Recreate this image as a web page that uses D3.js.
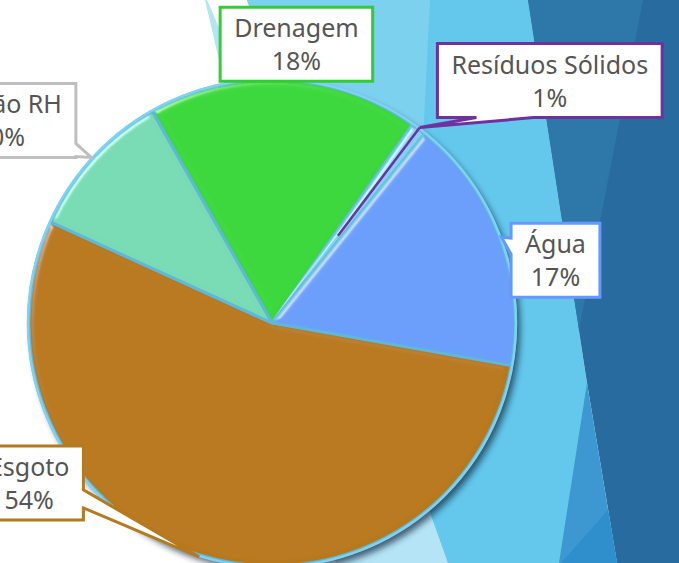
<!DOCTYPE html>
<html>
<head>
<meta charset="utf-8">
<style>
  body{margin:0;background:#fff;overflow:hidden;}
  #chart{display:block;}
  .lbl{font-family:"Noto Sans","Open Sans",sans-serif;font-size:25px;fill:#555555;}
</style>
<script src="https://cdn.jsdelivr.net/npm/d3@7"></script>
</head>
<body>
<svg id="chart"></svg>
<script>
// data
var categories=["Drenagem","Resíduos Sólidos","Água","Esgoto","Gestão RH"];
var shares=[18,1,17,54,10];
var sliceColors=["#3bd83b","#80d2ef","#6a9ffc","#b8791a","#78dbb4"];
var borderColors=["#33cc33","#7030a0","#6699ff","#b5791f","#bfbfbf"];

// callout placement, relative to the point where each slice meets the rim
var labelLayout=[
  {dx:12,dy:-34,side:null},
  {dx:130,dy:-47,side:"bottom",a:39,b:96},
  {dx:54,dy:23,side:"left",a:15,b:31},
  {dx:-170,dy:-74,side:"right",a:44,b:62},
  {dx:-91,dy:-37,side:"right",a:60,b:73}
];

// slide theme shapes on the right
var bgShapes=[
  {pts:[[205,0],[207,0],[452,563],[336,563]],fill:"#b5e4f6"},
  {pts:[[247,0],[528,0],[588,390],[560,563],[448,563]],fill:"#63c8ec"},
  {pts:[[247,0],[430,0],[420,200],[318,200]],fill:"#7cd1ef"},
  {pts:[[528,0],[679,0],[679,563],[617,563],[587,383]],fill:"#276b9f"},
  {pts:[[528,0],[643,0],[579,330]],fill:"#2e78a9"},
  {pts:[[587,383],[617,563],[559,563]],fill:"#3d97d1"},
  {pts:[[608,510],[617,563],[561,563]],fill:"#2f8fcc"}
];

var width=679,height=563;
var cx=272,cy=323,R=243;
var svg=d3.select("#chart").attr("width",width).attr("height",height);

var defs=svg.append("defs");
var bevel=defs.append("filter").attr("id","bevel")
  .attr("x","-10%").attr("y","-10%").attr("width","120%").attr("height","120%");
bevel.append("feGaussianBlur").attr("in","SourceAlpha").attr("stdDeviation",3).attr("result","blur");
bevel.append("feSpecularLighting").attr("in","blur").attr("surfaceScale",4)
  .attr("specularConstant",0.8).attr("specularExponent",45).attr("lighting-color","#ffffff").attr("result","spec")
  .append("feDistantLight").attr("azimuth",225).attr("elevation",40);
bevel.append("feComposite").attr("in","spec").attr("in2","SourceAlpha").attr("operator","in").attr("result","specIn");
bevel.append("feComposite").attr("in","SourceGraphic").attr("in2","specIn")
  .attr("operator","arithmetic").attr("k1",0).attr("k2",1).attr("k3",0.5).attr("k4",0);

var shadow=defs.append("filter").attr("id","shadow")
  .attr("x","-20%").attr("y","-20%").attr("width","140%").attr("height","140%");
shadow.append("feGaussianBlur").attr("stdDeviation",3);

// background
svg.selectAll("polygon.bg").data(bgShapes).enter().append("polygon")
  .attr("class","bg")
  .attr("points",function(d){return d.pts.map(function(p){return p.join(",");}).join(" ");})
  .attr("fill",function(d){return d.fill;});

// pie
var a0=-29.5*Math.PI/180;
var pie=d3.pie().sort(null).value(function(d){return d;}).startAngle(a0).endAngle(a0+2*Math.PI);
var arcs=pie(shares);
var arc=d3.arc().innerRadius(0).outerRadius(R);

function polar(a,r){return [cx+r*Math.sin(a),cy-r*Math.cos(a)];}

var g=svg.append("g").attr("transform","translate("+cx+","+cy+")");
g.append("circle").attr("cx",4).attr("cy",5).attr("r",R+1)
  .attr("fill","rgba(15,35,55,0.7)").attr("filter","url(#shadow)");
g.append("circle").attr("r",R+2).attr("fill","#5fbde0");

g.selectAll("path.slice").data(arcs).enter().append("path")
  .attr("class","slice")
  .attr("d",arc)
  .attr("fill",function(d,i){return sliceColors[i];})
  .attr("stroke","#5db8dc").attr("stroke-width",3).attr("stroke-linejoin","round")
  .attr("filter","url(#bevel)");

g.append("circle").attr("r",R+1).attr("fill","none").attr("stroke","#7fd2f0").attr("stroke-width",2.5);

// purple leader running along the thin slice
var res=arcs[1],resMid=(res.startAngle+res.endAngle)/2;
var p1=polar(resMid,R*0.45),p2=polar(resMid,R+2);
svg.append("line").attr("x1",p1[0]).attr("y1",p1[1]).attr("x2",p2[0]).attr("y2",p2[1])
  .attr("stroke",borderColors[1]).attr("stroke-width",2.5);

// callouts
function calloutPath(x0,y0,x1,y1,L,tip){
  var p=[[x0,y0],[x1,y0]];
  if(L.side==="right"){p.push([x1,y0+L.a],tip,[x1,y0+L.b]);}
  p.push([x1,y1]);
  if(L.side==="bottom"){p.push([x0+L.b,y1],tip,[x0+L.a,y1]);}
  p.push([x0,y1]);
  if(L.side==="left"){p.push([x0,y0+L.b],tip,[x0,y0+L.a]);}
  return "M"+p.map(function(q){return q[0]+","+q[1];}).join("L")+"Z";
}

var boxH=74;
arcs.forEach(function(d,i){
  var L=labelLayout[i];
  var mid=(d.startAngle+d.endAngle)/2;
  var tip=polar(mid,R+2);
  var ccx=tip[0]+L.dx,ccy=tip[1]+L.dy;
  var grp=svg.append("g");
  var path=grp.append("path");
  var t1=grp.append("text").attr("class","lbl").attr("text-anchor","middle").text(categories[i]);
  var t2=grp.append("text").attr("class","lbl").attr("text-anchor","middle").text(d3.format(".0%")(shares[i]/100));
  var w=Math.max(t1.node().getComputedTextLength(),t2.node().getComputedTextLength())+28;
  var x0=ccx-w/2,x1=ccx+w/2,y0=ccy-boxH/2,y1=ccy+boxH/2;
  path.attr("d",calloutPath(x0,y0,x1,y1,L,tip))
    .attr("fill","#fff").attr("stroke",borderColors[i]).attr("stroke-width",3).attr("stroke-linejoin","miter");
  t1.attr("x",ccx).attr("y",y0+30);
  t2.attr("x",ccx).attr("y",y0+63);
});
</script>
</body>
</html>
